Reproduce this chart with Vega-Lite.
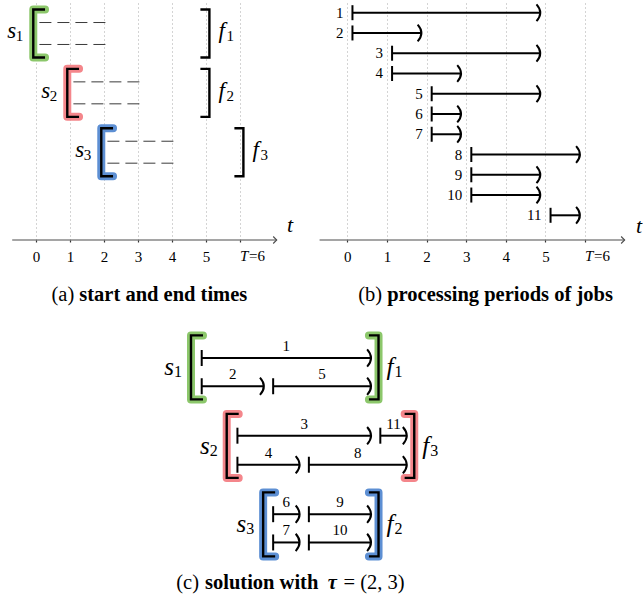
{
  "$schema": "https://vega.github.io/schema/vega-lite/v6.json",
  "padding": 0,
  "bounds": "flush",
  "columns": 2,
  "spacing": {"row": 20, "column": 10},
  "config": {"view": {"stroke": null}, "font": "Liberation Serif", "text": {"color": "#000", "font": "Liberation Serif"}, "axis": {"labelFont": "Liberation Serif"}},
  "datasets": {
    "jobs": [
      {"job": "1", "jn": 1, "start": 0.13, "end": 4.87, "lane": 0.88},
      {"job": "2", "jn": 2, "start": 0.13, "end": 1.87, "lane": 1.24},
      {"job": "3", "jn": 3, "start": 1.13, "end": 4.87, "lane": 1.87},
      {"job": "4", "jn": 4, "start": 1.13, "end": 2.87, "lane": 2.24},
      {"job": "5", "jn": 5, "start": 2.13, "end": 4.87, "lane": 1.24},
      {"job": "6", "jn": 6, "start": 2.13, "end": 2.87, "lane": 2.87},
      {"job": "7", "jn": 7, "start": 2.13, "end": 2.87, "lane": 3.23},
      {"job": "8", "jn": 8, "start": 3.13, "end": 5.87, "lane": 2.24},
      {"job": "9", "jn": 9, "start": 3.13, "end": 4.87, "lane": 2.87},
      {"job": "10", "jn": 10, "start": 3.13, "end": 4.87, "lane": 3.23},
      {"job": "11", "jn": 11, "start": 5.13, "end": 5.87, "lane": 1.87}
    ],
    "dashes": [
      {"m": "1", "start": 0.1, "end": 2.13, "y": 0.815},
      {"m": "1", "start": 0.1, "end": 2.13, "y": 1.185},
      {"m": "2", "start": 1.1, "end": 3.13, "y": 1.815},
      {"m": "2", "start": 1.1, "end": 3.13, "y": 2.185},
      {"m": "3", "start": 2.1, "end": 4.13, "y": 2.815},
      {"m": "3", "start": 2.1, "end": 4.13, "y": 3.185}
    ],
    "brackets": [
      {"panel": "a", "side": "L", "m": "1", "t": -0.08, "y": 1, "name": "s", "idx": "1"},
      {"panel": "a", "side": "L", "m": "2", "t": 0.92, "y": 2, "name": "s", "idx": "2"},
      {"panel": "a", "side": "L", "m": "3", "t": 1.92, "y": 3, "name": "s", "idx": "3"},
      {"panel": "a", "side": "R", "m": "1", "t": 5.1, "y": 1, "name": "f", "idx": "1"},
      {"panel": "a", "side": "R", "m": "2", "t": 5.1, "y": 2, "name": "f", "idx": "2"},
      {"panel": "a", "side": "R", "m": "3", "t": 6.1, "y": 3, "name": "f", "idx": "3"},
      {"panel": "c", "side": "L", "m": "1", "t": -0.17, "y": 1, "name": "s", "idx": "1"},
      {"panel": "c", "side": "L", "m": "2", "t": 0.83, "y": 2, "name": "s", "idx": "2"},
      {"panel": "c", "side": "L", "m": "3", "t": 1.85, "y": 3, "name": "s", "idx": "3"},
      {"panel": "c", "side": "R", "m": "1", "t": 5.08, "y": 1, "name": "f", "idx": "1"},
      {"panel": "c", "side": "R", "m": "2", "t": 6.08, "y": 2, "name": "f", "idx": "3"},
      {"panel": "c", "side": "R", "m": "3", "t": 5.08, "y": 3, "name": "f", "idx": "2"}
    ]
  },
  "concat": [
    {
      "width": 300,
      "height": 239,
      "layer": [
        {
          "data": {"name": "dashes"},
          "mark": {"type": "rule", "color": "#3a3a3a", "strokeWidth": 1, "strokeDash": [12, 6]},
          "encoding": {
            "x": {"field": "start", "type": "quantitative", "scale": {"domain": [-1.0588, 7.7647], "nice": false, "zero": false},
              "axis": {"values": [0, 1, 2, 3, 4, 5, 6], "labelExpr": "datum.value == 6 ? '' : datum.label", "title": null, "domain": false, "grid": true, "gridDash": [1, 3], "gridColor": "#a8a8a8", "gridWidth": 1, "tickSize": 2, "tickColor": "#333", "tickWidth": 1.2, "labelFontSize": 15, "labelColor": "#000", "labelPadding": 7, "labelFont": "Liberation Serif"}},
            "x2": {"field": "end"},
            "y": {"field": "y", "type": "quantitative", "scale": {"domain": [0.4524, 4.4794], "nice": false, "zero": false, "reverse": true}, "axis": null}
          }
        },
        {
          "data": {"values": [{}]},
          "mark": {"type": "rule", "color": "#4d4d4d", "strokeWidth": 1.1},
          "encoding": {
            "x": {"datum": -0.7, "type": "quantitative", "scale": {"domain": [-1.0588, 7.7647], "nice": false, "zero": false}},
            "x2": {"datum": 7.08},
            "y": {"datum": 4.4794, "type": "quantitative", "scale": {"domain": [0.4524, 4.4794], "nice": false, "zero": false, "reverse": true}, "axis": null}
          }
        },
        {
          "data": {"values": [{}]},
          "mark": {"type": "point", "shape": "M-1,-1L0,0L-1,1", "size": 49, "filled": false, "color": "#4d4d4d", "strokeWidth": 1.1, "opacity": 1},
          "encoding": {
            "x": {"datum": 7.08, "type": "quantitative", "scale": {"domain": [-1.0588, 7.7647], "nice": false, "zero": false}},
            "y": {"datum": 4.4794, "type": "quantitative", "scale": {"domain": [0.4524, 4.4794], "nice": false, "zero": false, "reverse": true}, "axis": null}
          }
        },
        {
          "data": {"values": [{}]},
          "mark": {"type": "text", "text": "t", "fontStyle": "italic", "fontSize": 22, "align": "left", "baseline": "alphabetic"},
          "encoding": {
            "x": {"datum": 7.38, "type": "quantitative", "scale": {"domain": [-1.0588, 7.7647], "nice": false, "zero": false}},
            "y": {"datum": 4.345, "type": "quantitative", "scale": {"domain": [0.4524, 4.4794], "nice": false, "zero": false, "reverse": true}, "axis": null}
          }
        },
        {
          "data": {"values": [{}]},
          "mark": {"type": "text", "text": "T", "fontStyle": "italic", "fontSize": 15, "align": "left", "baseline": "alphabetic"},
          "encoding": {
            "x": {"datum": 6, "type": "quantitative", "scale": {"domain": [-1.0588, 7.7647], "nice": false, "zero": false}},
            "y": {"datum": 4.833, "type": "quantitative", "scale": {"domain": [0.4524, 4.4794], "nice": false, "zero": false, "reverse": true}, "axis": null}
          }
        },
        {
          "data": {"values": [{}]},
          "mark": {"type": "text", "text": "=6", "fontSize": 15, "align": "left", "baseline": "alphabetic", "dx": 9},
          "encoding": {
            "x": {"datum": 6, "type": "quantitative", "scale": {"domain": [-1.0588, 7.7647], "nice": false, "zero": false}},
            "y": {"datum": 4.833, "type": "quantitative", "scale": {"domain": [0.4524, 4.4794], "nice": false, "zero": false, "reverse": true}, "axis": null}
          }
        },
        {
          "data": {"name": "brackets"},
          "transform": [{"filter": "datum.panel == 'a' && datum.side == 'L'"}],
          "mark": {"type": "point", "shape": "M0.49,-1L0,-1L0,1L0.49,1", "size": 2304, "filled": false, "strokeWidth": 8, "strokeCap": "round", "strokeJoin": "round", "opacity": 1},
          "encoding": {
            "x": {"field": "t", "type": "quantitative", "scale": {"domain": [-1.0588, 7.7647], "nice": false, "zero": false}},
            "y": {"field": "y", "type": "quantitative", "scale": {"domain": [0.4524, 4.4794], "nice": false, "zero": false, "reverse": true}, "axis": null},
            "color": {"field": "m", "type": "nominal", "scale": {"domain": ["1", "2", "3"], "range": ["#8cc76b", "#f4868b", "#5d8fd3"]}, "legend": null}
          }
        },
        {
          "data": {"name": "brackets"},
          "transform": [{"filter": "datum.panel == 'a' && datum.side == 'L'"}],
          "mark": {"type": "point", "shape": "M0.49,-1L0,-1L0,1L0.49,1", "size": 2304, "filled": false, "strokeWidth": 2.4, "color": "#000", "opacity": 1},
          "encoding": {
            "x": {"field": "t", "type": "quantitative", "scale": {"domain": [-1.0588, 7.7647], "nice": false, "zero": false}},
            "y": {"field": "y", "type": "quantitative", "scale": {"domain": [0.4524, 4.4794], "nice": false, "zero": false, "reverse": true}, "axis": null}
          }
        },
        {
          "data": {"name": "brackets"},
          "transform": [{"filter": "datum.panel == 'a' && datum.side == 'R'"}],
          "mark": {"type": "point", "shape": "M-0.375,-1L0,-1L0,1L-0.375,1", "size": 2304, "filled": false, "strokeWidth": 2.4, "color": "#000", "opacity": 1},
          "encoding": {
            "x": {"field": "t", "type": "quantitative", "scale": {"domain": [-1.0588, 7.7647], "nice": false, "zero": false}},
            "y": {"field": "y", "type": "quantitative", "scale": {"domain": [0.4524, 4.4794], "nice": false, "zero": false, "reverse": true}, "axis": null}
          }
        },
        {
          "data": {"name": "brackets"},
          "transform": [{"filter": "datum.panel == 'a' && datum.side == 'L'"}],
          "mark": {"type": "text", "font": "Liberation Serif", "fontStyle": "italic", "fontSize": 23, "align": "right", "baseline": "alphabetic", "dx": -17, "dy": 5},
          "encoding": {
            "x": {"field": "t", "type": "quantitative", "scale": {"domain": [-1.0588, 7.7647], "nice": false, "zero": false}},
            "y": {"field": "y", "type": "quantitative", "scale": {"domain": [0.4524, 4.4794], "nice": false, "zero": false, "reverse": true}, "axis": null},
            "text": {"field": "name", "type": "nominal"}
          }
        },
        {
          "data": {"name": "brackets"},
          "transform": [{"filter": "datum.panel == 'a' && datum.side == 'L'"}],
          "mark": {"type": "text", "font": "Liberation Serif", "fontSize": 15, "align": "right", "baseline": "alphabetic", "dx": -10, "dy": 8},
          "encoding": {
            "x": {"field": "t", "type": "quantitative", "scale": {"domain": [-1.0588, 7.7647], "nice": false, "zero": false}},
            "y": {"field": "y", "type": "quantitative", "scale": {"domain": [0.4524, 4.4794], "nice": false, "zero": false, "reverse": true}, "axis": null},
            "text": {"field": "idx", "type": "nominal"}
          }
        },
        {
          "data": {"name": "brackets"},
          "transform": [{"filter": "datum.panel == 'a' && datum.side == 'R'"}],
          "mark": {"type": "text", "font": "Liberation Serif", "fontStyle": "italic", "fontSize": 23, "align": "left", "baseline": "alphabetic", "dx": 9, "dy": 5},
          "encoding": {
            "x": {"field": "t", "type": "quantitative", "scale": {"domain": [-1.0588, 7.7647], "nice": false, "zero": false}},
            "y": {"field": "y", "type": "quantitative", "scale": {"domain": [0.4524, 4.4794], "nice": false, "zero": false, "reverse": true}, "axis": null},
            "text": {"field": "name", "type": "nominal"}
          }
        },
        {
          "data": {"name": "brackets"},
          "transform": [{"filter": "datum.panel == 'a' && datum.side == 'R'"}],
          "mark": {"type": "text", "font": "Liberation Serif", "fontSize": 15, "align": "left", "baseline": "alphabetic", "dx": 17, "dy": 8},
          "encoding": {
            "x": {"field": "t", "type": "quantitative", "scale": {"domain": [-1.0588, 7.7647], "nice": false, "zero": false}},
            "y": {"field": "y", "type": "quantitative", "scale": {"domain": [0.4524, 4.4794], "nice": false, "zero": false, "reverse": true}, "axis": null},
            "text": {"field": "idx", "type": "nominal"}
          }
        },
        {
          "data": {"values": [{}]},
          "mark": {"type": "text", "text": "(a)", "font": "Liberation Serif", "fontSize": 20.5, "align": "right", "baseline": "alphabetic", "dx": -2},
          "encoding": {
            "x": {"datum": 1.185, "type": "quantitative", "scale": {"domain": [-1.0588, 7.7647], "nice": false, "zero": false}},
            "y": {"datum": 5.507, "type": "quantitative", "scale": {"domain": [0.4524, 4.4794], "nice": false, "zero": false, "reverse": true}, "axis": null}
          }
        },
        {
          "data": {"values": [{}]},
          "mark": {"type": "text", "text": "start and end times", "font": "Liberation Serif", "fontWeight": "bold", "fontSize": 20.5, "align": "left", "baseline": "alphabetic", "dx": 3},
          "encoding": {
            "x": {"datum": 1.185, "type": "quantitative", "scale": {"domain": [-1.0588, 7.7647], "nice": false, "zero": false}},
            "y": {"datum": 5.507, "type": "quantitative", "scale": {"domain": [0.4524, 4.4794], "nice": false, "zero": false, "reverse": true}, "axis": null}
          }
        }
      ]
    },
    {
      "width": 333,
      "height": 239,
      "layer": [
        {
          "data": {"name": "jobs"},
          "mark": {"type": "rule", "color": "#000", "strokeWidth": 2},
          "encoding": {
            "x": {"field": "start", "type": "quantitative", "scale": {"domain": [-0.9415, 7.4634], "nice": false, "zero": false},
              "axis": {"values": [0, 1, 2, 3, 4, 5, 6], "labelExpr": "datum.value == 6 ? '' : datum.label", "title": null, "domain": false, "grid": true, "gridDash": [1, 3], "gridColor": "#a8a8a8", "gridWidth": 1, "tickSize": 2, "tickColor": "#333", "tickWidth": 1.2, "labelFontSize": 15, "labelColor": "#000", "labelPadding": 7, "labelFont": "Liberation Serif"}},
            "x2": {"field": "end"},
            "y": {"field": "jn", "type": "quantitative", "scale": {"domain": [0.4225, 12.2192], "nice": false, "zero": false, "reverse": true}, "axis": null}
          }
        },
        {
          "data": {"values": [{}]},
          "mark": {"type": "rule", "color": "#4d4d4d", "strokeWidth": 1.1},
          "encoding": {
            "x": {"datum": -0.7, "type": "quantitative", "scale": {"domain": [-0.9415, 7.4634], "nice": false, "zero": false}},
            "x2": {"datum": 7.0},
            "y": {"datum": 12.2192, "type": "quantitative", "scale": {"domain": [0.4225, 12.2192], "nice": false, "zero": false, "reverse": true}, "axis": null}
          }
        },
        {
          "data": {"values": [{}]},
          "mark": {"type": "point", "shape": "M-1,-1L0,0L-1,1", "size": 49, "filled": false, "color": "#4d4d4d", "strokeWidth": 1.1, "opacity": 1},
          "encoding": {
            "x": {"datum": 7.0, "type": "quantitative", "scale": {"domain": [-0.9415, 7.4634], "nice": false, "zero": false}},
            "y": {"datum": 12.2192, "type": "quantitative", "scale": {"domain": [0.4225, 12.2192], "nice": false, "zero": false, "reverse": true}, "axis": null}
          }
        },
        {
          "data": {"values": [{}]},
          "mark": {"type": "text", "text": "t", "font": "Liberation Serif", "fontStyle": "italic", "fontSize": 22, "align": "left", "baseline": "alphabetic"},
          "encoding": {
            "x": {"datum": 7.287, "type": "quantitative", "scale": {"domain": [-0.9415, 7.4634], "nice": false, "zero": false}},
            "y": {"datum": 11.86, "type": "quantitative", "scale": {"domain": [0.4225, 12.2192], "nice": false, "zero": false, "reverse": true}, "axis": null}
          }
        },
        {
          "data": {"values": [{}]},
          "mark": {"type": "text", "text": "T", "font": "Liberation Serif", "fontStyle": "italic", "fontSize": 15, "align": "left", "baseline": "alphabetic"},
          "encoding": {
            "x": {"datum": 6, "type": "quantitative", "scale": {"domain": [-0.9415, 7.4634], "nice": false, "zero": false}},
            "y": {"datum": 13.256, "type": "quantitative", "scale": {"domain": [0.4225, 12.2192], "nice": false, "zero": false, "reverse": true}, "axis": null}
          }
        },
        {
          "data": {"values": [{}]},
          "mark": {"type": "text", "text": "=6", "font": "Liberation Serif", "fontSize": 15, "align": "left", "baseline": "alphabetic", "dx": 9},
          "encoding": {
            "x": {"datum": 6, "type": "quantitative", "scale": {"domain": [-0.9415, 7.4634], "nice": false, "zero": false}},
            "y": {"datum": 13.256, "type": "quantitative", "scale": {"domain": [0.4225, 12.2192], "nice": false, "zero": false, "reverse": true}, "axis": null}
          }
        },
        {
          "data": {"name": "jobs"},
          "mark": {"type": "point", "shape": "M0,-1L0,1", "size": 225, "filled": false, "color": "#000", "strokeWidth": 2, "opacity": 1},
          "encoding": {
            "x": {"field": "start", "type": "quantitative", "scale": {"domain": [-0.9415, 7.4634], "nice": false, "zero": false}},
            "y": {"field": "jn", "type": "quantitative", "scale": {"domain": [0.4225, 12.2192], "nice": false, "zero": false, "reverse": true}, "axis": null}
          }
        },
        {
          "data": {"name": "jobs"},
          "mark": {"type": "point", "shape": "M-0.45,-1Q0.45,0,-0.45,1", "size": 279, "filled": false, "color": "#000", "strokeWidth": 2, "opacity": 1},
          "encoding": {
            "x": {"field": "end", "type": "quantitative", "scale": {"domain": [-0.9415, 7.4634], "nice": false, "zero": false}},
            "y": {"field": "jn", "type": "quantitative", "scale": {"domain": [0.4225, 12.2192], "nice": false, "zero": false, "reverse": true}, "axis": null}
          }
        },
        {
          "data": {"name": "jobs"},
          "mark": {"type": "text", "font": "Liberation Serif", "fontSize": 15, "align": "right", "baseline": "alphabetic", "dx": -9, "dy": 5},
          "encoding": {
            "x": {"field": "start", "type": "quantitative", "scale": {"domain": [-0.9415, 7.4634], "nice": false, "zero": false}},
            "y": {"field": "jn", "type": "quantitative", "scale": {"domain": [0.4225, 12.2192], "nice": false, "zero": false, "reverse": true}, "axis": null},
            "text": {"field": "job", "type": "nominal"}
          }
        },
        {
          "data": {"values": [{}]},
          "mark": {"type": "text", "text": "(b)", "font": "Liberation Serif", "fontSize": 20.5, "align": "right", "baseline": "alphabetic", "dx": -2},
          "encoding": {
            "x": {"datum": 0.93, "type": "quantitative", "scale": {"domain": [-0.9415, 7.4634], "nice": false, "zero": false}},
            "y": {"datum": 15.23, "type": "quantitative", "scale": {"domain": [0.4225, 12.2192], "nice": false, "zero": false, "reverse": true}, "axis": null}
          }
        },
        {
          "data": {"values": [{}]},
          "mark": {"type": "text", "text": "processing periods of jobs", "font": "Liberation Serif", "fontWeight": "bold", "fontSize": 20.5, "align": "left", "baseline": "alphabetic", "dx": 3},
          "encoding": {
            "x": {"datum": 0.93, "type": "quantitative", "scale": {"domain": [-0.9415, 7.4634], "nice": false, "zero": false}},
            "y": {"datum": 15.23, "type": "quantitative", "scale": {"domain": [0.4225, 12.2192], "nice": false, "zero": false, "reverse": true}, "axis": null}
          }
        }
      ]
    },
    {
      "width": 300,
      "height": 345,
      "layer": [
        {
          "data": {"name": "brackets"},
          "transform": [{"filter": "datum.panel == 'c' && datum.side == 'L'"}],
          "mark": {"type": "point", "shape": "M0.375,-1L0,-1L0,1L0.375,1", "size": 4096, "filled": false, "strokeWidth": 8, "strokeCap": "round", "strokeJoin": "round", "opacity": 1},
          "encoding": {
            "x": {"field": "t", "type": "quantitative", "scale": {"domain": [-5.5168, 2.8816], "nice": false, "zero": false}, "axis": null},
            "y": {"field": "y", "type": "quantitative", "scale": {"domain": [-0.3682, 4.0268], "nice": false, "zero": false, "reverse": true}, "axis": null},
            "color": {"field": "m", "type": "nominal", "scale": {"domain": ["1", "2", "3"], "range": ["#8cc76b", "#f4868b", "#5d8fd3"]}, "legend": null}
          }
        },
        {
          "data": {"name": "brackets"},
          "transform": [{"filter": "datum.panel == 'c' && datum.side == 'R'"}],
          "mark": {"type": "point", "shape": "M-0.3,-1L0,-1L0,1L-0.3,1", "size": 4096, "filled": false, "strokeWidth": 8, "strokeCap": "round", "strokeJoin": "round", "opacity": 1},
          "encoding": {
            "x": {"field": "t", "type": "quantitative", "scale": {"domain": [-5.5168, 2.8816], "nice": false, "zero": false}, "axis": null},
            "y": {"field": "y", "type": "quantitative", "scale": {"domain": [-0.3682, 4.0268], "nice": false, "zero": false, "reverse": true}, "axis": null},
            "color": {"field": "m", "type": "nominal", "scale": {"domain": ["1", "2", "3"], "range": ["#8cc76b", "#f4868b", "#5d8fd3"]}, "legend": null}
          }
        },
        {
          "data": {"name": "brackets"},
          "transform": [{"filter": "datum.panel == 'c' && datum.side == 'L'"}],
          "mark": {"type": "point", "shape": "M0.375,-1L0,-1L0,1L0.375,1", "size": 4096, "filled": false, "strokeWidth": 2.4, "color": "#000", "opacity": 1},
          "encoding": {
            "x": {"field": "t", "type": "quantitative", "scale": {"domain": [-5.5168, 2.8816], "nice": false, "zero": false}, "axis": null},
            "y": {"field": "y", "type": "quantitative", "scale": {"domain": [-0.3682, 4.0268], "nice": false, "zero": false, "reverse": true}, "axis": null}
          }
        },
        {
          "data": {"name": "brackets"},
          "transform": [{"filter": "datum.panel == 'c' && datum.side == 'R'"}],
          "mark": {"type": "point", "shape": "M-0.3,-1L0,-1L0,1L-0.3,1", "size": 4096, "filled": false, "strokeWidth": 2.4, "color": "#000", "opacity": 1},
          "encoding": {
            "x": {"field": "t", "type": "quantitative", "scale": {"domain": [-5.5168, 2.8816], "nice": false, "zero": false}, "axis": null},
            "y": {"field": "y", "type": "quantitative", "scale": {"domain": [-0.3682, 4.0268], "nice": false, "zero": false, "reverse": true}, "axis": null}
          }
        },
        {
          "data": {"name": "jobs"},
          "mark": {"type": "rule", "color": "#000", "strokeWidth": 2},
          "encoding": {
            "x": {"field": "start", "type": "quantitative", "scale": {"domain": [-5.5168, 2.8816], "nice": false, "zero": false}, "axis": null},
            "x2": {"field": "end"},
            "y": {"field": "lane", "type": "quantitative", "scale": {"domain": [-0.3682, 4.0268], "nice": false, "zero": false, "reverse": true}, "axis": null}
          }
        },
        {
          "data": {"name": "jobs"},
          "mark": {"type": "point", "shape": "M0,-1L0,1", "size": 256, "filled": false, "color": "#000", "strokeWidth": 2, "opacity": 1},
          "encoding": {
            "x": {"field": "start", "type": "quantitative", "scale": {"domain": [-5.5168, 2.8816], "nice": false, "zero": false}, "axis": null},
            "y": {"field": "lane", "type": "quantitative", "scale": {"domain": [-0.3682, 4.0268], "nice": false, "zero": false, "reverse": true}, "axis": null}
          }
        },
        {
          "data": {"name": "jobs"},
          "mark": {"type": "point", "shape": "M-0.45,-1Q0.45,0,-0.45,1", "size": 300, "filled": false, "color": "#000", "strokeWidth": 2, "opacity": 1},
          "encoding": {
            "x": {"field": "end", "type": "quantitative", "scale": {"domain": [-5.5168, 2.8816], "nice": false, "zero": false}, "axis": null},
            "y": {"field": "lane", "type": "quantitative", "scale": {"domain": [-0.3682, 4.0268], "nice": false, "zero": false, "reverse": true}, "axis": null}
          }
        },
        {
          "data": {"name": "jobs"},
          "transform": [{"fold": ["start", "end"], "as": ["k", "v"]}],
          "mark": {"type": "text", "font": "Liberation Serif", "fontSize": 15, "align": "center", "baseline": "alphabetic", "dy": -7},
          "encoding": {
            "x": {"field": "v", "aggregate": "mean", "type": "quantitative", "scale": {"domain": [-5.5168, 2.8816], "nice": false, "zero": false}, "axis": null},
            "y": {"field": "lane", "type": "quantitative", "scale": {"domain": [-0.3682, 4.0268], "nice": false, "zero": false, "reverse": true}, "axis": null},
            "text": {"field": "job", "type": "nominal"}
          }
        },
        {
          "data": {"name": "brackets"},
          "transform": [{"filter": "datum.panel == 'c' && datum.side == 'L'"}],
          "mark": {"type": "text", "font": "Liberation Serif", "fontStyle": "italic", "fontSize": 25, "align": "right", "baseline": "alphabetic", "dx": -17, "dy": 8},
          "encoding": {
            "x": {"field": "t", "type": "quantitative", "scale": {"domain": [-5.5168, 2.8816], "nice": false, "zero": false}, "axis": null},
            "y": {"field": "y", "type": "quantitative", "scale": {"domain": [-0.3682, 4.0268], "nice": false, "zero": false, "reverse": true}, "axis": null},
            "text": {"field": "name", "type": "nominal"}
          }
        },
        {
          "data": {"name": "brackets"},
          "transform": [{"filter": "datum.panel == 'c' && datum.side == 'L'"}],
          "mark": {"type": "text", "font": "Liberation Serif", "fontSize": 16, "align": "right", "baseline": "alphabetic", "dx": -9, "dy": 10},
          "encoding": {
            "x": {"field": "t", "type": "quantitative", "scale": {"domain": [-5.5168, 2.8816], "nice": false, "zero": false}, "axis": null},
            "y": {"field": "y", "type": "quantitative", "scale": {"domain": [-0.3682, 4.0268], "nice": false, "zero": false, "reverse": true}, "axis": null},
            "text": {"field": "idx", "type": "nominal"}
          }
        },
        {
          "data": {"name": "brackets"},
          "transform": [{"filter": "datum.panel == 'c' && datum.side == 'R'"}],
          "mark": {"type": "text", "font": "Liberation Serif", "fontStyle": "italic", "fontSize": 25, "align": "left", "baseline": "alphabetic", "dx": 8, "dy": 8},
          "encoding": {
            "x": {"field": "t", "type": "quantitative", "scale": {"domain": [-5.5168, 2.8816], "nice": false, "zero": false}, "axis": null},
            "y": {"field": "y", "type": "quantitative", "scale": {"domain": [-0.3682, 4.0268], "nice": false, "zero": false, "reverse": true}, "axis": null},
            "text": {"field": "name", "type": "nominal"}
          }
        },
        {
          "data": {"name": "brackets"},
          "transform": [{"filter": "datum.panel == 'c' && datum.side == 'R'"}],
          "mark": {"type": "text", "font": "Liberation Serif", "fontSize": 16, "align": "left", "baseline": "alphabetic", "dx": 16, "dy": 10},
          "encoding": {
            "x": {"field": "t", "type": "quantitative", "scale": {"domain": [-5.5168, 2.8816], "nice": false, "zero": false}, "axis": null},
            "y": {"field": "y", "type": "quantitative", "scale": {"domain": [-0.3682, 4.0268], "nice": false, "zero": false, "reverse": true}, "axis": null},
            "text": {"field": "idx", "type": "nominal"}
          }
        },
        {
          "data": {"values": [{}]},
          "mark": {"type": "text", "text": "(c)", "font": "Liberation Serif", "fontSize": 20.5, "align": "right", "baseline": "alphabetic"},
          "encoding": {
            "x": {"datum": 0.054, "type": "quantitative", "scale": {"domain": [-5.5168, 2.8816], "nice": false, "zero": false}, "axis": null},
            "y": {"datum": 3.827, "type": "quantitative", "scale": {"domain": [-0.3682, 4.0268], "nice": false, "zero": false, "reverse": true}, "axis": null}
          }
        },
        {
          "data": {"values": [{}]},
          "mark": {"type": "text", "text": "solution with", "font": "Liberation Serif", "fontWeight": "bold", "fontSize": 20.5, "align": "left", "baseline": "alphabetic"},
          "encoding": {
            "x": {"datum": 0.222, "type": "quantitative", "scale": {"domain": [-5.5168, 2.8816], "nice": false, "zero": false}, "axis": null},
            "y": {"datum": 3.827, "type": "quantitative", "scale": {"domain": [-0.3682, 4.0268], "nice": false, "zero": false, "reverse": true}, "axis": null}
          }
        },
        {
          "data": {"values": [{}]},
          "mark": {"type": "text", "text": "τ", "font": "Liberation Serif", "fontWeight": "bold", "fontStyle": "italic", "fontSize": 20.5, "align": "left", "baseline": "alphabetic"},
          "encoding": {
            "x": {"datum": 3.66, "type": "quantitative", "scale": {"domain": [-5.5168, 2.8816], "nice": false, "zero": false}, "axis": null},
            "y": {"datum": 3.827, "type": "quantitative", "scale": {"domain": [-0.3682, 4.0268], "nice": false, "zero": false, "reverse": true}, "axis": null}
          }
        },
        {
          "data": {"values": [{}]},
          "mark": {"type": "text", "text": "= (2, 3)", "font": "Liberation Serif", "fontSize": 20.5, "align": "left", "baseline": "alphabetic"},
          "encoding": {
            "x": {"datum": 4.1, "type": "quantitative", "scale": {"domain": [-5.5168, 2.8816], "nice": false, "zero": false}, "axis": null},
            "y": {"datum": 3.827, "type": "quantitative", "scale": {"domain": [-0.3682, 4.0268], "nice": false, "zero": false, "reverse": true}, "axis": null}
          }
        }
      ]
    }
  ]
}
